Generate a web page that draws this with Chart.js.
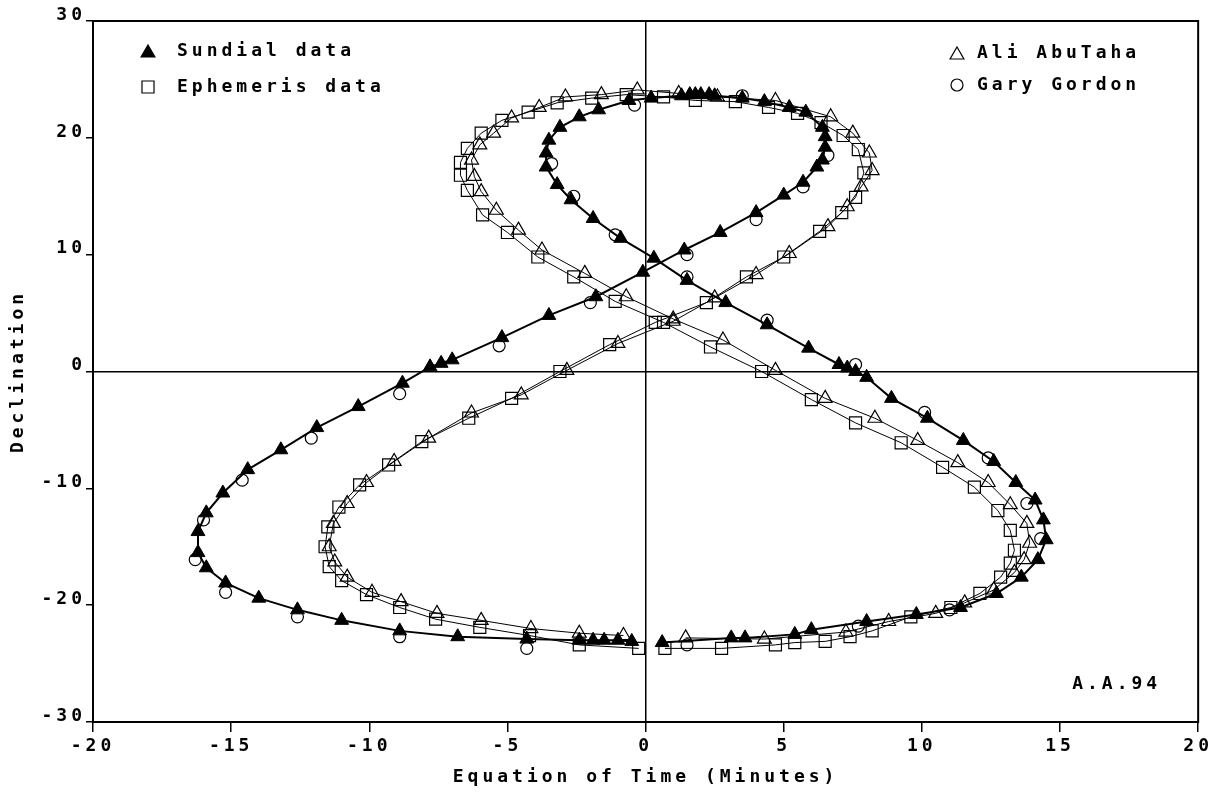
<!DOCTYPE html>
<html>
<head>
<meta charset="utf-8">
<script src="https://cdn.jsdelivr.net/npm/chart.js@4.4.1/dist/chart.umd.min.js"></script>
<style>
html,body{margin:0;padding:0;background:#fff;}
</style>
</head>
<body>
<canvas id="c" width="1217" height="792"></canvas>
<script>
// readings, [equation of time, declination]
const sundial = [[0.6,-23.2],[3.1,-22.8],[3.6,-22.8],[5.4,-22.5],[6.0,-22.1],[8.0,-21.4],[9.8,-20.8],[11.4,-20.2],[12.7,-19.0],[13.6,-17.6],[14.2,-16.1],[14.5,-14.4],[14.4,-12.7],[14.1,-11.0],[13.4,-9.5],[12.6,-7.7],[11.5,-5.9],[10.2,-4.0],[8.9,-2.3],[8.0,-0.5],[7.6,0.0],[7.3,0.3],[7.0,0.6],[5.9,2.0],[4.4,4.0],[2.9,5.9],[1.5,7.8],[0.3,9.7],[-0.9,11.4],[-1.9,13.1],[-2.7,14.7],[-3.2,16.0],[-3.6,17.5],[-3.6,18.7],[-3.5,19.8],[-3.1,20.9],[-2.4,21.8],[-1.7,22.4],[-0.6,23.2],[0.2,23.4],[1.3,23.6],[1.6,23.7],[1.8,23.7],[2.0,23.7],[2.3,23.7],[2.5,23.6],[3.5,23.4],[4.3,23.1],[5.2,22.6],[5.8,22.2],[6.4,20.9],[6.5,20.1],[6.5,19.2],[6.4,18.1],[6.2,17.5],[5.7,16.2],[5.0,15.1],[4.0,13.6],[2.7,11.9],[1.4,10.4],[-0.1,8.5],[-1.8,6.4],[-3.5,4.8],[-5.2,2.9],[-7.0,1.0],[-7.4,0.7],[-7.8,0.4],[-8.8,-1.0],[-10.4,-3.0],[-11.9,-4.8],[-13.2,-6.7],[-14.4,-8.4],[-15.3,-10.4],[-15.9,-12.1],[-16.2,-13.7],[-16.2,-15.5],[-15.9,-16.8],[-15.2,-18.1],[-14.0,-19.4],[-12.6,-20.4],[-11.0,-21.3],[-8.9,-22.2],[-6.8,-22.7],[-4.3,-22.9],[-2.4,-23.0],[-1.9,-23.0],[-1.5,-23.0],[-1.0,-23.0],[-0.5,-23.1]];

const ephemeris = [[0.7,-23.7],[2.75,-23.7],[4.7,-23.4],[5.4,-23.2],[6.5,-23.1],[7.4,-22.7],[8.2,-22.2],[9.6,-21.0],[11.05,-20.2],[12.1,-19.0],[12.85,-17.6],[13.2,-16.4],[13.35,-15.3],[13.2,-13.6],[12.75,-11.9],[11.9,-9.9],[10.75,-8.2],[9.25,-6.1],[7.6,-4.4],[6.0,-2.4],[4.2,0.0],[2.35,2.1],[0.65,4.2],[-1.1,6.0],[-2.6,8.1],[-3.9,9.8],[-5.0,11.9],[-5.9,13.4],[-6.45,15.5],[-6.7,16.8],[-6.7,17.9],[-6.45,19.1],[-5.95,20.4],[-5.2,21.5],[-4.25,22.2],[-3.2,23.0],[-1.95,23.4],[-0.7,23.7],[0.65,23.5],[1.8,23.2],[3.25,23.1],[4.45,22.6],[5.5,22.1],[6.35,21.3],[7.15,20.2],[7.7,19.0],[7.9,17.0],[7.6,14.9],[7.1,13.6],[6.3,12.0],[5.0,9.8],[3.65,8.1],[2.2,5.9],[0.35,4.2],[-1.3,2.3],[-3.1,0.0],[-4.85,-2.3],[-6.4,-4.0],[-8.1,-6.0],[-9.3,-8.0],[-10.35,-9.7],[-11.1,-11.6],[-11.5,-13.3],[-11.6,-15.0],[-11.45,-16.7],[-11.0,-17.9],[-10.1,-19.1],[-8.9,-20.2],[-7.6,-21.2],[-6.0,-21.9],[-4.2,-22.6],[-2.4,-23.4],[-0.25,-23.7]];

const abuTaha = [[1.45,-22.8],[4.3,-22.9],[7.25,-22.3],[8.8,-21.4],[10.5,-20.7],[11.55,-19.8],[12.6,-18.7],[13.35,-17.2],[13.7,-16.1],[13.9,-14.7],[13.8,-13.0],[13.2,-11.4],[12.4,-9.5],[11.3,-7.8],[9.85,-5.9],[8.3,-4.0],[6.5,-2.3],[4.7,0.1],[2.8,2.7],[1.0,4.5],[-0.7,6.4],[-2.2,8.4],[-3.75,10.4],[-4.6,12.1],[-5.4,13.8],[-5.95,15.4],[-6.2,16.7],[-6.3,18.1],[-6.0,19.4],[-5.5,20.4],[-4.85,21.7],[-3.85,22.6],[-2.9,23.5],[-1.6,23.7],[-0.3,24.1],[1.2,23.8],[2.6,23.5],[4.7,23.2],[6.7,21.8],[7.5,20.4],[8.1,18.7],[8.2,17.2],[7.8,15.8],[7.3,14.1],[6.6,12.4],[5.2,10.1],[4.0,8.3],[2.5,6.3],[1.0,4.3],[-1.0,2.4],[-2.85,0.1],[-4.5,-2.0],[-6.3,-3.55],[-7.85,-5.7],[-9.1,-7.7],[-10.1,-9.5],[-10.8,-11.3],[-11.3,-13.0],[-11.45,-15.0],[-11.25,-16.3],[-10.8,-17.6],[-9.9,-18.9],[-8.85,-19.7],[-7.55,-20.7],[-5.95,-21.3],[-4.15,-22.0],[-2.4,-22.4],[-0.8,-22.6]];

const gordon = [[1.5,-23.4],[7.7,-21.8],[11.0,-20.4],[14.3,-14.3],[13.8,-11.3],[12.4,-7.4],[10.1,-3.5],[7.6,0.6],[4.4,4.4],[1.5,8.1],[-1.1,11.7],[-2.6,15.0],[-3.4,17.8],[-0.4,22.8],[3.5,23.6],[6.6,18.5],[5.7,15.8],[4.0,13.0],[1.5,10.0],[-2.0,5.9],[-5.3,2.2],[-8.9,-1.9],[-12.1,-5.7],[-14.6,-9.3],[-16.0,-12.7],[-16.3,-16.1],[-15.2,-18.9],[-12.6,-21.0],[-8.9,-22.7],[-4.3,-23.7]];

const xTitle = 'Equation of Time (Minutes)';
const yTitle = 'Declination';
const stamp = 'A.A.94';

const FONT = "'DejaVu Sans Mono', monospace";
const SPACING = '4px';

Chart.defaults.font.family = FONT;
Chart.defaults.font.size = 18;
Chart.defaults.font.weight = 'bold';
Chart.defaults.color = '#000';

const pts = arr => arr.map(p => ({x: p[0], y: p[1]}));
const open = 'rgba(255,255,255,0)';

// legend entries, left column and right column
const legendItems = [
  {text: 'Sundial data', style: 'triangle', r: 8, fill: '#000', col: 0, row: 0},
  {text: 'Ephemeris data', style: 'rect', r: 8.5, fill: '#fff', col: 0, row: 1},
  {text: 'Ali AbuTaha', style: 'triangle', r: 8, fill: '#fff', col: 1, row: 0},
  {text: 'Gary Gordon', style: 'circle', r: 6, fill: '#fff', col: 1, row: 1}
];

const spacingPlugin = {
  id: 'spacing',
  beforeLayout(chart) { chart.ctx.letterSpacing = SPACING; },
  beforeDraw(chart) { chart.ctx.letterSpacing = SPACING; }
};

const framePlugin = {
  id: 'frame',
  afterDraw(chart) {
    const {ctx, chartArea: a} = chart;
    ctx.save();
    ctx.strokeStyle = '#000';
    ctx.lineWidth = 2;
    ctx.strokeRect(a.left, a.top, a.right - a.left, a.bottom - a.top);

    ctx.font = 'bold 18px ' + FONT;
    ctx.letterSpacing = SPACING;
    ctx.textBaseline = 'middle';
    ctx.textAlign = 'left';
    legendItems.forEach(it => {
      const sx = it.col === 0 ? a.left + 55 : a.left + 864;
      const tx = it.col === 0 ? a.left + 84 : a.left + 884;
      const y = a.top + (it.col === 0 ? 30 : 32) + it.row * (it.col === 0 ? 36 : 32);
      ctx.fillStyle = it.fill;
      ctx.strokeStyle = '#000';
      ctx.lineWidth = 1.2;
      Chart.helpers.drawPoint(ctx, {pointStyle: it.style, radius: it.r, rotation: 0, borderWidth: 1.2}, sx, y + (it.style === 'triangle' ? 2 : 0));
      ctx.fillStyle = '#000';
      ctx.fillText(it.text, tx, y);
    });
    ctx.fillText(stamp, a.right - 126, a.bottom - 38);
    ctx.restore();
  }
};

const zeroLine = c => (c.tick && c.tick.value === 0) ? '#000' : 'rgba(0,0,0,0)';

new Chart(document.getElementById('c'), {
  type: 'scatter',
  data: {
    datasets: [
      {label: 'Sundial data', data: pts(sundial), showLine: true, borderColor: '#000', borderWidth: 2,
       pointStyle: 'triangle', pointRadius: 8, pointBackgroundColor: '#000', pointBorderColor: '#000', pointBorderWidth: 1},
      {label: 'Gary Gordon', data: pts(gordon), showLine: false,
       pointStyle: 'circle', pointRadius: 6, pointBackgroundColor: open, pointBorderColor: '#000', pointBorderWidth: 1.2},
      {label: 'Ali AbuTaha', data: pts(abuTaha), showLine: true, borderColor: '#000', borderWidth: 1,
       pointStyle: 'triangle', pointRadius: 8, pointBackgroundColor: open, pointBorderColor: '#000', pointBorderWidth: 1.2},
      {label: 'Ephemeris data', data: pts(ephemeris), showLine: true, borderColor: '#000', borderWidth: 1,
       pointStyle: 'rect', pointRadius: 8.5, pointBackgroundColor: open, pointBorderColor: '#000', pointBorderWidth: 1.2}
    ]
  },
  options: {
    responsive: false,
    animation: false,
    layout: {padding: {top: 21, right: 12, left: 0, bottom: 0}},
    elements: {line: {tension: 0}},
    plugins: {legend: {display: false}, tooltip: {enabled: false}},
    scales: {
      x: {
        type: 'linear', min: -20, max: 20,
        ticks: {stepSize: 5, padding: 4, maxRotation: 0},
        grid: {color: zeroLine, lineWidth: 1.5, tickColor: '#000', tickLength: 10, tickWidth: 1.5},
        border: {display: true, color: '#000', width: 2},
        title: {display: true, text: xTitle, padding: {top: 6, bottom: 4}},
        afterFit(s) { s.height = 70; }
      },
      y: {
        type: 'linear', min: -30, max: 30,
        ticks: {stepSize: 10, padding: 0, labelOffset: -6},
        grid: {color: zeroLine, lineWidth: 1.5, tickColor: '#000', tickLength: 7, tickWidth: 1.5},
        border: {display: true, color: '#000', width: 2},
        title: {display: true, text: yTitle, padding: {top: 8, bottom: 0}},
        afterFit(s) { s.width = 93; }
      }
    }
  },
  plugins: [spacingPlugin, framePlugin]
});
</script>
</body>
</html>
